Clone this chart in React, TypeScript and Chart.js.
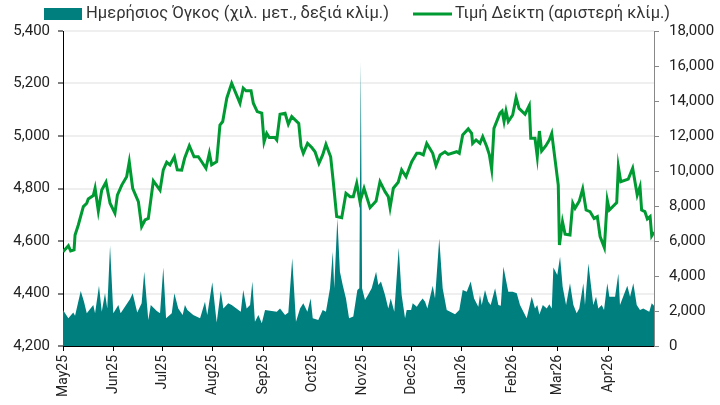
import React, { useEffect, useRef } from "react";
import { Chart, registerables } from "chart.js";

Chart.register(...registerables);

// Day offsets from 1 May 2025
const monthTickDays = [0, 31, 61, 92, 123, 153, 184, 214, 245, 276, 304, 335];
const monthLabels = ["May25", "Jun25", "Jul25", "Aug25", "Sep25", "Oct25", "Nov25", "Dec25", "Jan26", "Feb26", "Mar26", "Apr26"];

const priceTicks = [4200, 4400, 4600, 4800, 5000, 5200, 5400];
const volumeTicks = [0, 2000, 4000, 6000, 8000, 10000, 12000, 14000, 16000, 18000];

const priceDays = [
  0, 3.3, 4.7, 6.8, 7.4, 9.4, 12.5, 14.6, 15.5, 18.6, 19.7, 21.7, 23.8, 26.4, 28.9, 31.9, 33.4, 36.1, 39.1, 40.7,
  42.8, 46.3, 48.3, 50.4, 52.4, 55.5, 59.6, 61.6, 63.7, 65.7, 68.4, 70.2, 72.9, 74.7, 77.6, 80.5, 83.1, 85.2, 87.8, 89.9,
  91.3, 94.4, 96.4, 98.1, 100.6, 103.6, 108.7, 110.7, 112.4, 115.5, 116.9, 119.3, 122.1, 123.5, 125.1, 126.7, 130.2, 131.3, 133.3, 136.4,
  138.4, 140.5, 144.8, 146.2, 147.6, 150.2, 152.8, 154.8, 157.2, 159.5, 161.5, 164.4, 166, 168.1, 171.2, 173.8, 176.3, 178.3, 180.4, 182.4,
  184.9, 188.6, 192.3, 194.7, 197.8, 199.8, 200.9, 202.9, 205.9, 208, 210.7, 214.2, 217.3, 219.3, 221.3, 223.4, 227.1, 229.1, 231.6, 234.6,
  236.6, 241.8, 243.4, 245.5, 248.9, 251, 251.6, 253.7, 256.1, 257.8, 260.3, 261.9, 263.3, 264.7, 268.4, 269.7, 270.9, 272.1, 273.5, 276.2,
  278.3, 280.1, 283.8, 286.4, 287.3, 289.9, 291.3, 292.6, 294, 296.5, 298.7, 300.2, 304.2, 304.9, 306.8, 308.4, 311.4, 313.1, 314.5, 317.1,
  319.2, 321.3, 323.7, 326.2, 328.2, 329.9, 332.5, 334.3, 335.6, 340.1, 341.1, 342.6, 347.2, 349.9, 352.7, 354.4, 355.4, 357.4, 358.9, 360.6,
  361.6, 363,
];
const priceValues = [
  4559, 4582, 4562, 4566, 4623, 4661, 4731, 4744, 4760, 4773, 4801, 4714, 4794, 4824, 4744, 4706, 4775, 4813, 4845, 4902,
  4801, 4750, 4655, 4680, 4686, 4829, 4794, 4871, 4900, 4890, 4921, 4871, 4870, 4915, 4963, 4921, 4921, 4902, 4877, 4934,
  4890, 4902, 5042, 5055, 5144, 5201, 5125, 5182, 5172, 5172, 5125, 5093, 5087, 4978, 5010, 4994, 4994, 4985, 5083, 5087,
  5045, 5074, 5048, 4960, 4934, 4972, 4956, 4940, 4896, 4928, 4968, 4921, 4826, 4693, 4689, 4782, 4769, 4769, 4820, 4750,
  4801, 4727, 4752, 4826, 4788, 4769, 4727, 4801, 4824, 4871, 4845, 4902, 4934, 4934, 4928, 4972, 4934, 4887, 4928, 4940,
  4930, 4940, 4934, 5004, 5027, 5010, 4972, 4985, 4972, 4997, 4959, 4928, 4874, 5029, 5087, 5095, 5055, 5095, 5055, 5080,
  5146, 5105, 5083, 5116, 4991, 4991, 4921, 5019, 4943, 4962, 4985, 5010, 4813, 4585, 4673, 4626, 4623, 4744, 4725, 4752,
  4798, 4718, 4712, 4686, 4693, 4617, 4575, 4756, 4718, 4746, 4883, 4826, 4836, 4877, 4775, 4807, 4718, 4712, 4684, 4693,
  4620, 4634,
];

const volumeDays = [
  0, 3.3, 6.3, 7.4, 10.9, 12.9, 14.6, 18.6, 19.7, 22.1, 23.8, 25.8, 27.2, 28.9, 30.9, 34, 35.4, 41.2, 42.8, 45.6,
  48.3, 49.9, 52.4, 53.9, 57.6, 59.6, 61.6, 63.3, 66.8, 68.4, 70.8, 73.5, 74.9, 76.4, 80, 84.2, 87.2, 88.6, 91.7, 94.4,
  96.9, 98.5, 101.5, 103.6, 109.2, 110.7, 112.8, 114.9, 116.3, 117.9, 120, 122.1, 124.1, 131.3, 133.3, 136.4, 138.4, 140.8, 143.1, 145.6,
  147.6, 150.1, 152.1, 153.4, 156.8, 159.5, 161.5, 164, 165.7, 166.6, 168.5, 170.1, 171.8, 173.8, 175.7, 178.3, 180.8, 182, 182.9, 183.7,
  185.5, 187.5, 189.6, 192.3, 193.7, 195.3, 197.8, 199.8, 201.3, 203.5, 206.2, 208, 210.1, 211.1, 213.8, 214.8, 217.3, 219.3, 220.9, 222.4,
  223.8, 227.1, 228.5, 231.1, 233.2, 235.7, 240.8, 243.4, 245.5, 248, 250.4, 252.5, 255.1, 256.1, 257.2, 259.2, 261.2, 262.7, 265.4, 267.4,
  268.9, 270.5, 273.5, 276.2, 278.7, 280.7, 284.8, 287.9, 289.9, 291.3, 292.6, 294.7, 297.1, 298.7, 300.2, 301.2, 303.6, 305.3, 306.9, 309,
  311.4, 313.5, 315.5, 317.1, 319.6, 320.6, 322.7, 325.7, 327.4, 328.8, 330.9, 332.3, 334.3, 335.6, 339.1, 341.1, 342.1, 346.6, 348.3, 350.3,
  352.4, 354.4, 356.4, 360.1, 361.6, 363,
];
const volumeValues = [
  2060, 1580, 1920, 1730, 3140, 2530, 1870, 2340, 1870, 3450, 1960, 3010, 2150, 5730, 1870, 2340, 1870, 2690, 3010, 1920,
  2440, 4250, 1490, 2340, 2000, 1870, 4480, 1580, 1870, 3010, 2150, 1770, 2340, 2060, 1770, 1580, 2530, 1770, 3640, 1350,
  3140, 2150, 2440, 2340, 1960, 3200, 2150, 2340, 3680, 1390, 1770, 1300, 2060, 1960, 2150, 1770, 1920, 5010, 1390, 2150,
  2440, 1960, 2720, 1580, 1490, 2060, 1960, 3300, 5390, 3300, 7300, 4250, 3490, 2720, 1580, 1680, 3200, 3300, 16250, 3300,
  2630, 2950, 3300, 4250, 3490, 3680, 2910, 2150, 2720, 1960, 5620, 2910, 1580, 2060, 2060, 2440, 2250, 2530, 2720, 2530,
  2150, 3450, 2720, 6150, 3300, 2060, 1810, 2060, 3200, 3100, 3680, 2720, 2250, 2910, 2340, 3200, 2530, 2340, 3300, 2340,
  2300, 4530, 3100, 3100, 3010, 2340, 1580, 2820, 2150, 2340, 1800, 2340, 2150, 2380, 2150, 4480, 4060, 5100, 3390, 2340,
  3580, 2340, 1870, 2150, 3580, 2340, 4720, 2340, 2820, 2150, 2340, 2060, 3580, 2820, 2820, 4150, 2340, 3450, 2820, 3580,
  2340, 2060, 2150, 1960, 2440, 2300,
];

const legendVolume = "Ημερήσιος Όγκος (χιλ. μετ., δεξιά κλίμ.)";
const legendPrice = "Τιμή Δείκτη (αριστερή κλίμ.)";

const TEAL = "#007f7f";
const GREEN = "#009a32";
const FONT = "Roboto";

const legendPlugin = {
  id: "customLegend",
  afterDraw(chart: any) {
    const ctx = chart.ctx;
    ctx.save();
    ctx.font = `17px ${FONT}`;
    ctx.textBaseline = "middle";
    ctx.textAlign = "left";
    ctx.fillStyle = TEAL;
    ctx.fillRect(44, 8, 38, 12);
    ctx.fillStyle = "#333";
    ctx.fillText(legendVolume, 86, 14, 303);
    ctx.strokeStyle = GREEN;
    ctx.lineWidth = 3;
    ctx.beginPath();
    ctx.moveTo(413, 14);
    ctx.lineTo(452, 14);
    ctx.stroke();
    ctx.fillStyle = "#333";
    ctx.fillText(legendPrice, 455, 14, 215);
    ctx.restore();
  },
};

export default function App() {
  const ref = useRef<HTMLCanvasElement | null>(null);

  useEffect(() => {
    document.body.style.margin = "0";
    if (!ref.current) return;
    const chart = new Chart(ref.current, {
      type: "line",
      data: {
        datasets: [
          {
            label: legendPrice,
            data: priceDays.map((d, i) => ({ x: d, y: priceValues[i] })),
            yAxisID: "y",
            borderColor: GREEN,
            borderWidth: 3,
            pointRadius: 0,
            tension: 0,
            fill: false,
            order: 0,
          },
          {
            label: legendVolume,
            data: volumeDays.map((d, i) => ({ x: d, y: volumeValues[i] })),
            yAxisID: "y1",
            borderColor: TEAL,
            borderWidth: 0,
            backgroundColor: TEAL,
            pointRadius: 0,
            tension: 0,
            fill: "origin",
            order: 1,
          },
        ],
      },
      options: {
        responsive: false,
        animation: false,
        layout: { padding: { top: 31, left: 0, right: 0, bottom: 0 } },
        plugins: { legend: { display: false }, tooltip: { enabled: false } },
        scales: {
          x: {
            type: "linear",
            min: 0,
            max: 363,
            afterBuildTicks: (scale: any) => {
              scale.ticks = monthTickDays.map((v) => ({ value: v }));
            },
            afterFit: (scale: any) => {
              scale.height = 59;
            },
            ticks: {
              autoSkip: false,
              minRotation: 90,
              maxRotation: 90,
              padding: 4,
              color: "#222",
              font: { family: FONT, size: 14 },
              callback: (v: any) => {
                const i = monthTickDays.indexOf(Number(v));
                return i >= 0 ? monthLabels[i] : "";
              },
            },
            grid: { drawOnChartArea: false, tickLength: 5, color: "#000" },
            border: { color: "#000", width: 1 },
          },
          y: {
            type: "linear",
            position: "left",
            min: 4200,
            max: 5400,
            afterBuildTicks: (scale: any) => {
              scale.ticks = priceTicks.map((v) => ({ value: v }));
            },
            afterFit: (scale: any) => {
              scale.width = 63;
            },
            ticks: {
              padding: 8,
              color: "#222",
              font: { family: FONT, size: 15 },
              callback: (v: any) => Number(v).toLocaleString("en-US"),
            },
            grid: { color: "#efefef", lineWidth: 2, tickLength: 5, tickColor: "#000", tickWidth: 1 },
            border: { color: "#000", width: 1 },
          },
          y1: {
            type: "linear",
            position: "right",
            min: 0,
            max: 18000,
            afterBuildTicks: (scale: any) => {
              scale.ticks = volumeTicks.map((v) => ({ value: v }));
            },
            afterFit: (scale: any) => {
              scale.width = 66;
            },
            ticks: {
              padding: 10,
              color: "#222",
              font: { family: FONT, size: 15 },
              callback: (v: any) => Number(v).toLocaleString("en-US"),
            },
            grid: { drawOnChartArea: false, tickLength: 5, color: "#888" },
            border: { color: "#888", width: 1 },
          },
        },
      },
      plugins: [legendPlugin],
    });
    return () => chart.destroy();
  }, []);

  return (
    <div style={{ width: 720, height: 405 }}>
      <canvas ref={ref} width={720} height={405} style={{ display: "block" }} />
    </div>
  );
}
